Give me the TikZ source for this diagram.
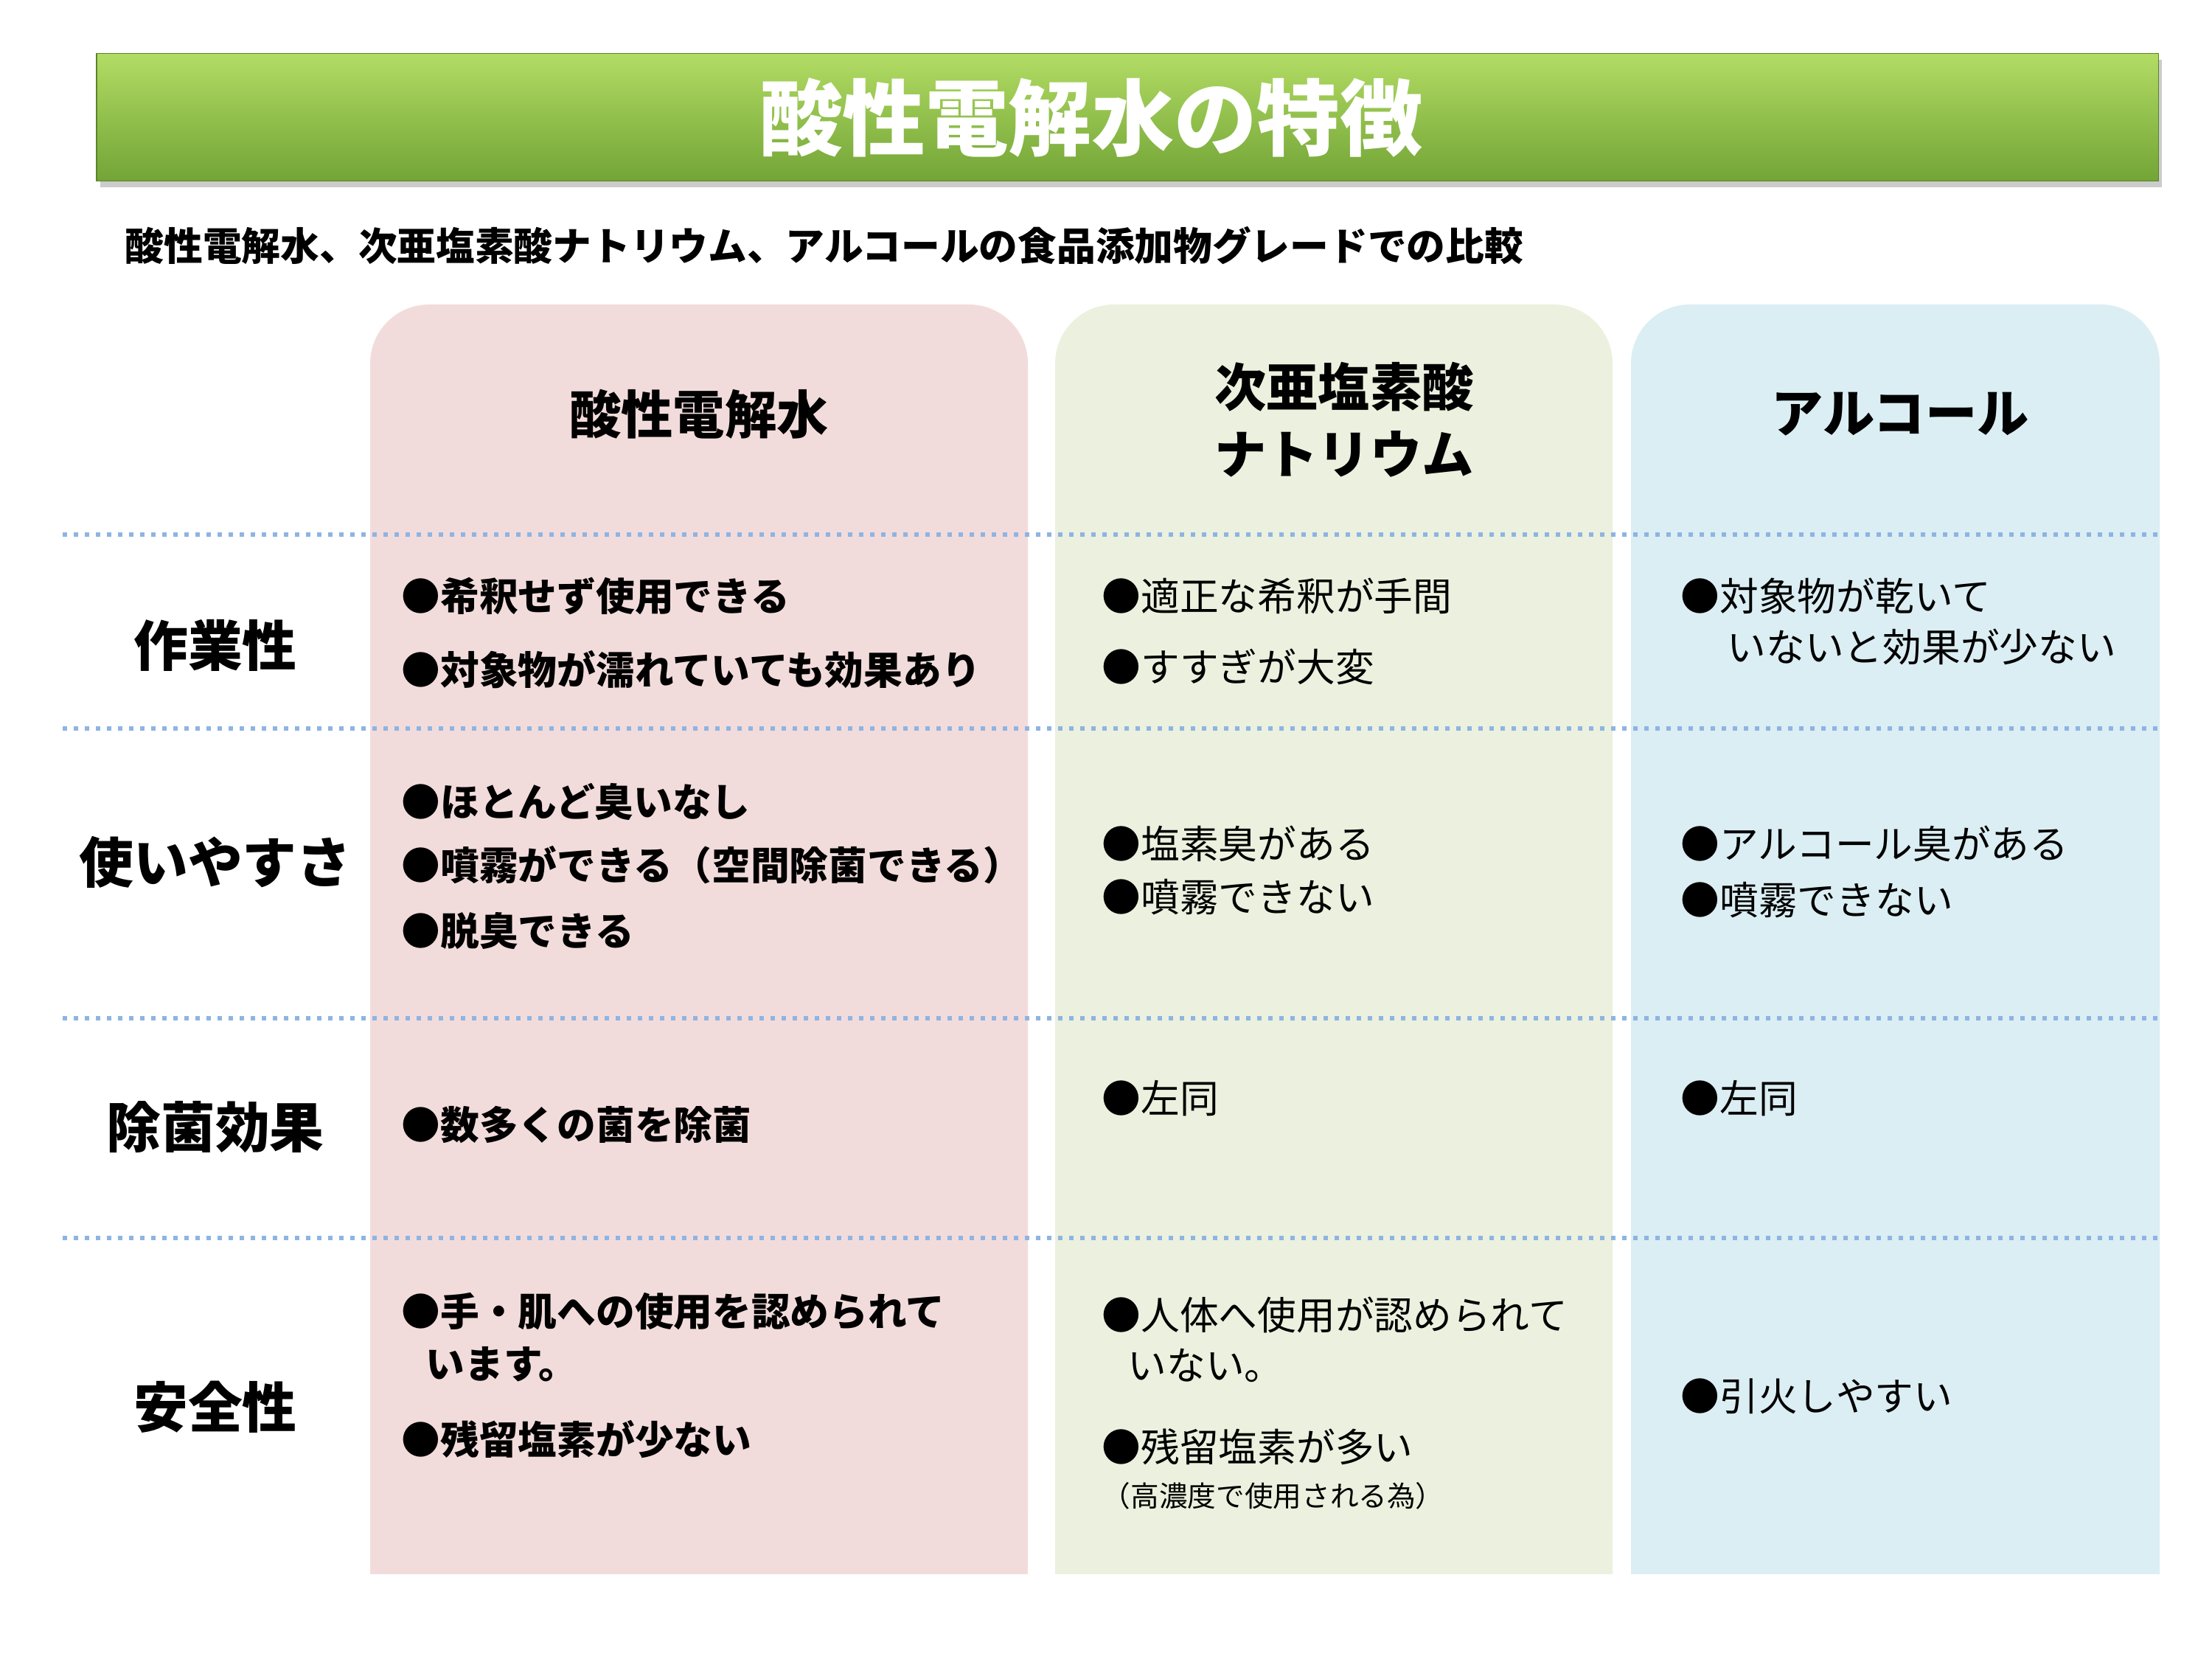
\documentclass[tikz,border=0pt]{standalone}
\usepackage{fontspec}
\setmainfont{Noto Sans CJK JP}
\usetikzlibrary{shadows}
\definecolor{pinkc}{HTML}{F2DCDB}
\definecolor{greenc}{HTML}{EBF1DE}
\definecolor{bluec}{HTML}{DBEEF3}
\definecolor{dotc}{HTML}{8EB4E3}
\definecolor{gtop}{HTML}{B2DC64}
\definecolor{gbot}{HTML}{72A436}
\tikzset{
 col/.style={inner sep=0pt},
 hdr/.style={font=\fontsize{20}{26}\selectfont\bfseries, align=center},
 rowlab/.style={font=\fontsize{21}{26}\selectfont\bfseries},
 cellb/.style={anchor=west, font=\fontsize{15}{19}\selectfont\bfseries, inner sep=0pt},
 cell/.style={anchor=west, font=\fontsize{15}{19}\selectfont, inner sep=0pt},
 sep/.style={dotc, line width=0.6mm, dash pattern=on 0.6mm off 0.9mm},
}
\begin{document}
\begin{tikzpicture}
\useasboundingbox (0,0) rectangle (30,22.5);
\fill[white] (0,0) rectangle (30,22.5);
% title
\node[col, minimum width=27.96cm, minimum height=1.73cm, top color=gtop, bottom color=gbot, draw=gbot!80!black, line width=0.3pt, drop shadow={opacity=0.4, shadow xshift=0.05cm, shadow yshift=-0.08cm}] (title) at (15.29,20.905) {};
\node[text=white, font=\fontsize{32}{36}\selectfont\bfseries] (tt) at (14.8,20.9) {酸性電解水の特徴};
\node[anchor=west, font=\fontsize{15}{18}\selectfont\bfseries, inner sep=0pt] (sub) at (1.69,19.17) {酸性電解水、次亜塩素酸ナトリウム、アルコールの食品添加物グレードでの比較};
% columns
\fill[pinkc, rounded corners=0.8cm] (5.02,1.15) -- (5.02,18.37) -- (13.94,18.37) -- (13.94,1.15) [sharp corners] -- cycle;
\fill[pinkc] (5.02,1.15) rectangle (13.94,3);
\fill[greenc, rounded corners=0.8cm] (14.31,1.15) -- (14.31,18.37) -- (21.87,18.37) -- (21.87,1.15) [sharp corners] -- cycle;
\fill[greenc] (14.31,1.15) rectangle (21.87,3);
\fill[bluec, rounded corners=0.8cm] (22.12,1.15) -- (22.12,18.37) -- (29.29,18.37) -- (29.29,1.15) [sharp corners] -- cycle;
\fill[bluec] (22.12,1.15) rectangle (29.29,3);
% headers
\node[hdr] (h1) at (9.48,16.88) {酸性電解水};
\node[hdr] (h2) at (18.23,16.81) {次亜塩素酸\\ナトリウム};
\node[hdr] (h3) at (25.77,16.88) {アルコール};
% separators
\foreach \y in {15.25,12.62,8.69,5.71} \draw[sep] (0.85,\y) -- (29.29,\y);
% row labels
\node[rowlab] (r1) at (2.92,13.75) {作業性};
\node[rowlab] (r2) at (2.92,10.81) {使いやすさ};
\node[rowlab] (r3) at (2.92,7.21) {除菌効果};
\node[rowlab] (r4) at (2.92,3.42) {安全性};
% pink
\node[cellb] (p1) at (5.44,14.42) {●希釈せず使用できる};
\node[cellb] (p2) at (5.44,13.42) {●対象物が濡れていても効果あり};
\node[cellb] (p3) at (5.44,11.63) {●ほとんど臭いなし};
\node[cellb] (p4) at (5.44,10.77) {●噴霧ができる（空間除菌できる）};
\node[cellb] (p5) at (5.44,9.87) {●脱臭できる};
\node[cellb] (p6) at (5.44,7.25) {●数多くの菌を除菌};
\node[cellb] (p7) at (5.44,4.71) {●手・肌への使用を認められて};
\node[cellb] (p8) at (5.77,4.0) {います。};
\node[cellb] (p9) at (5.44,2.98) {●残留塩素が少ない};
% green
\node[cell] (g1) at (14.94,14.42) {●適正な希釈が手間};
\node[cell] (g2) at (14.94,13.46) {●すすぎが大変};
\node[cell] (g3) at (14.94,11.06) {●塩素臭がある};
\node[cell] (g4) at (14.94,10.33) {●噴霧できない};
\node[cell] (g5) at (14.94,7.6) {●左同};
\node[cell] (g6) at (14.94,4.67) {●人体へ使用が認められて};
\node[cell] (g7) at (15.29,3.98) {いない。};
\node[cell] (g8) at (14.94,2.88) {●残留塩素が多い};
\node[anchor=west, inner sep=0pt, font=\fontsize{11}{13}\selectfont] (g9) at (14.94,2.21) {（高濃度で使用される為）};
% blue
\node[cell] (b1) at (22.79,14.42) {●対象物が乾いて};
\node[cell] (b2) at (23.42,13.73) {いないと効果が少ない};
\node[cell] (b3) at (22.79,11.06) {●アルコール臭がある};
\node[cell] (b4) at (22.79,10.29) {●噴霧できない};
\node[cell] (b5) at (22.79,7.6) {●左同};
\node[cell] (b6) at (22.79,3.56) {●引火しやすい};
\end{tikzpicture}
\end{document}
